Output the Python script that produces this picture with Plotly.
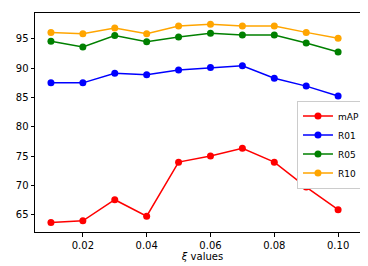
import plotly.graph_objects as go

xi = [0.01, 0.02, 0.03, 0.04, 0.05, 0.06, 0.07, 0.08, 0.09, 0.10]
mAP = [63.7, 64.0, 67.6, 64.8, 74.0, 75.05, 76.35, 74.0, 69.75, 65.9]
R01 = [87.5, 87.5, 89.15, 88.9, 89.7, 90.1, 90.4, 88.3, 86.95, 85.25]
R05 = [94.6, 93.6, 95.55, 94.5, 95.3, 95.95, 95.65, 95.65, 94.3, 92.75]
R10 = [96.1, 95.85, 96.85, 95.85, 97.2, 97.5, 97.2, 97.2, 96.1, 95.1]

series = [("mAP", mAP, "red"), ("R01", R01, "blue"), ("R05", R05, "green"), ("R10", R10, "orange")]

fig = go.Figure()
for name, vals, col in series:
    fig.add_trace(go.Scatter(x=xi, y=vals, name=name, mode="lines+markers",
                             line=dict(color=col, width=1.5),
                             marker=dict(color=col, size=7)))

axis_common = dict(showgrid=False, zeroline=False, showline=True, linecolor="black",
                   linewidth=1, mirror=True, ticks="outside", ticklen=3.5,
                   tickcolor="black", tickfont=dict(size=10, color="black"))
fig.update_layout(
    width=368, height=266,
    margin=dict(l=27, r=6, t=5, b=42),
    paper_bgcolor="white", plot_bgcolor="white",
    font=dict(family="DejaVu Sans", size=10, color="black"),
    xaxis=dict(range=[0.005, 0.11], tickvals=[0.02, 0.04, 0.06, 0.08, 0.10],
               tickformat=".2f", title=dict(text="<i>ξ</i> values", font=dict(size=10), standoff=0),
               **axis_common),
    yaxis=dict(range=[62.1, 99.4], tickvals=[65, 70, 75, 80, 85, 90, 95], **axis_common),
    legend=dict(x=0.985, y=0.60, xanchor="right", yanchor="top",
                bgcolor="white", bordercolor="#cccccc", borderwidth=1,
                font=dict(size=9), tracegroupgap=0, itemwidth=30),
    showlegend=True,
)
fig.write_html("out.html")
